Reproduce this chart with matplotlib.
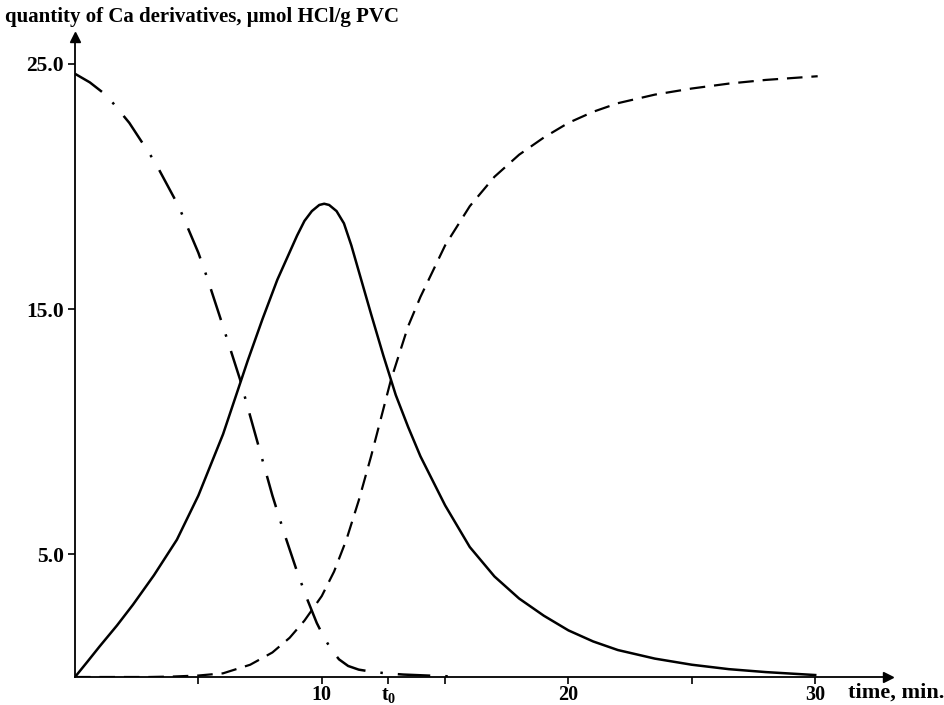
import matplotlib
matplotlib.use('Agg')
import matplotlib.pyplot as plt

plt.rcParams['font.family'] = ['Liberation Serif', 'DejaVu Serif']
plt.rcParams['font.weight'] = 'bold'
plt.rcParams['mathtext.fontset'] = 'custom'
plt.rcParams['mathtext.rm'] = 'Liberation Serif:bold'
plt.rcParams['mathtext.it'] = 'Liberation Serif:bold'

# Ca stearate consumed (dash-dot)
t_stearate = [0, 0.6, 1.3, 2.2, 3.24, 4.2, 5.0, 5.35, 6.0, 6.7, 7.0, 7.5, 8.0, 8.5, 9.0,
              9.4, 9.8, 10.1, 10.4, 10.7, 11.07, 11.5, 12.0, 12.6, 13.3, 14.5, 15.4]
q_stearate = [24.6, 24.25, 23.7, 22.6, 21.0, 19.2, 17.3, 16.3, 14.3, 12.1, 11.0, 9.2, 7.4,
              5.8, 4.3, 3.2, 2.2, 1.6, 1.1, 0.72, 0.45, 0.3, 0.22, 0.15, 0.1, 0.05, 0.02]

# intermediate product (solid)
t_inter = [0, 0.5, 1.0, 1.7, 2.35, 3.2, 4.13, 5.0, 6.0, 6.7, 7.0, 7.6, 8.2, 8.6, 9.0, 9.3,
           9.6, 9.9, 10.1, 10.3, 10.6, 10.9, 11.2, 11.6, 12.0, 12.5, 13.0, 13.5, 14.0, 15.0,
           16.0, 17.0, 18.0, 19.0, 20.0, 21.0, 22.0, 23.5, 25.0, 26.5, 28.0, 30.0]
q_inter = [0, 0.62, 1.25, 2.1, 2.95, 4.15, 5.6, 7.4, 9.9, 12.0, 12.9, 14.6, 16.2, 17.1, 18.0,
           18.6, 19.0, 19.25, 19.3, 19.25, 19.0, 18.5, 17.6, 16.2, 14.8, 13.1, 11.5, 10.2,
           9.0, 7.0, 5.3, 4.1, 3.2, 2.5, 1.9, 1.45, 1.1, 0.75, 0.5, 0.32, 0.2, 0.08]

# CaCl2 formed (dashed)
t_chloride = [0, 3.0, 4.0, 5.0, 6.0, 7.1, 8.0, 8.7, 9.3, 10.0, 10.5, 11.0, 11.5, 12.0,
              12.8, 13.5, 14.0, 15.0, 16.0, 17.0, 18.0, 19.0, 20.0, 21.0, 22.0, 23.5, 25.0,
              26.5, 28.0, 30.1]
q_chloride = [0, 0.0, 0.02, 0.06, 0.15, 0.5, 1.0, 1.6, 2.3, 3.3, 4.3, 5.6, 7.2, 9.0, 12.1,
              14.3, 15.5, 17.6, 19.2, 20.4, 21.3, 22.0, 22.6, 23.05, 23.4, 23.75, 24.0,
              24.2, 24.35, 24.5]

x_ticks = [5, 10, 12.7, 15, 20, 25, 30]
x_labels = ['', '10', r'$\mathrm{t_0}$', '', '20', '', '30']
y_ticks = [5, 15, 25]
y_labels = ['5.0', '15.0', '25.0']

fig = plt.figure(figsize=(9.44, 7.05), dpi=100)
ax = fig.add_axes([75 / 944, 28 / 705, 813 / 944, 640 / 705])

ax.plot(t_stearate, q_stearate, color='black', lw=1.8, dashes=(13, 6, 1, 6))
ax.plot(t_inter, q_inter, color='black', lw=1.8)
ax.plot(t_chloride, q_chloride, color='black', lw=1.6, dashes=(7, 4))

ax.set_xlim(0, 32.95)
ax.set_ylim(0, 26.1)
for side in ['top', 'right']:
    ax.spines[side].set_visible(False)
for side in ['left', 'bottom']:
    ax.spines[side].set_linewidth(1.3)

# arrow heads on both axes
ax.plot(1, 0, '>', color='black', ms=7, transform=ax.transAxes, clip_on=False)
ax.plot(0, 1, '^', color='black', ms=7, transform=ax.transAxes, clip_on=False)

ax.set_xticks(x_ticks)
ax.set_xticklabels(x_labels, fontsize=14.5, fontweight='bold')
ax.set_yticks(y_ticks)
ax.set_yticklabels(y_labels, fontsize=15.5, fontweight='bold')
ax.tick_params(direction='out', length=5, width=1.2, pad=3)
ax.tick_params(axis='x', pad=1)

fig.text(5 / 944, 1 - 17 / 705, 'quantity of Ca derivatives, μmol HCl/g PVC',
         fontsize=15, fontweight='bold', ha='left', va='center')
fig.text(848 / 944, 1 - 693 / 705, 'time, min.', fontsize=16, fontweight='bold',
         ha='left', va='center')

fig.savefig('out.png', dpi=100)
